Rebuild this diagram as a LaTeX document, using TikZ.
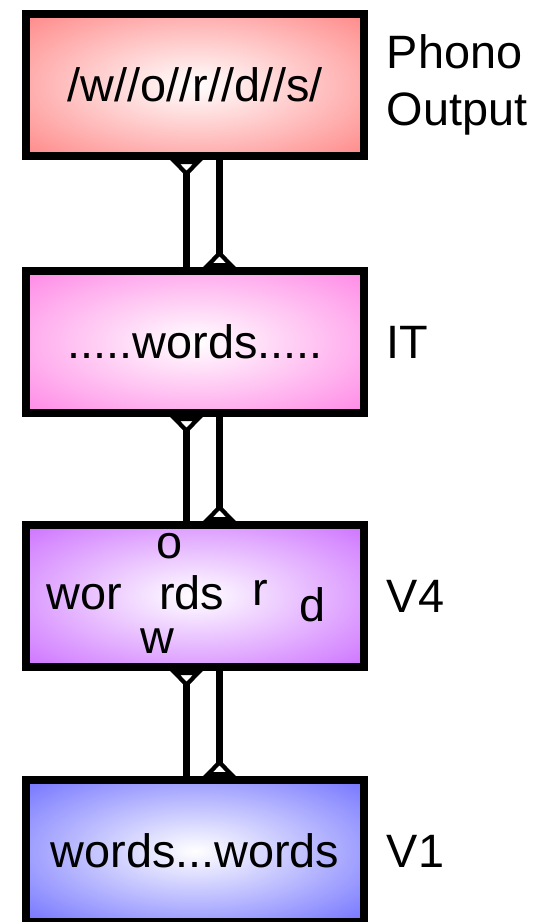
\documentclass[tikz,border=0pt]{standalone}
\usepackage{fontspec}
\setmainfont{Liberation Sans}
\usetikzlibrary{positioning}
\usetikzlibrary{arrows.meta}
\definecolor{phonocol}{RGB}{255,128,128}
\definecolor{itcol}{RGB}{255,128,228}
\definecolor{vfourcol}{RGB}{202,104,255}
\definecolor{vonecol}{RGB}{106,106,255}
\colorlet{glowcol}{phonocol}
\pgfdeclareradialshading[glowcol]{glow}{\pgfpointorigin}{color(0bp)=(white); color(38bp)=(glowcol); color(50bp)=(glowcol)}

\begin{document}
\begin{tikzpicture} [
            x=1bp, y=-1bp,
            every node/.style={font=\fontsize{47}{57}\selectfont, inner sep=0pt},
            area/.style={draw, line width=7.5bp, minimum width=338bp, minimum height=142bp,
                shading=glow, /utils/exec={\colorlet{glowcol}{#1}}},
            link/.style={line width=7bp, -{Triangle[open, reversed, length=17bp, width=32bp, line width=5.5bp]}}
        ]
        \useasboundingbox (0,0) rectangle (555,922);
        \node[area=phonocol] (phono) at (195,85) {/w//o//r//d//s/};
        \node[area=itcol] (it) at (195,342) {.....words.....};
        \node[area=vfourcol] (vfour) at (195,596) {};
        \node[area=vonecol] (vone) at (195,851) {words...words};
        % scrambled letters in V4
        \node[anchor=base west] (wor) at (46,609) {wor};
        \node[anchor=base west] (rds) at (159,609) {rds};
        \node[anchor=base west] (lo) at (156,558) {o};
        \node[anchor=base west] (lr) at (252,605) {r};
        \node[anchor=base west] (ld) at (299,621) {d};
        \node[anchor=base west] (lw) at (140,653) {w};
        % area labels
        \node[right=19bp of phono, align=left] (phonolbl) {Phono\\Output};
        \node[right=19bp of it] (itlbl) {IT};
        \node[right=19bp of vfour] (vfourlbl) {V4};
        \node[right=19bp of vone] (vonelbl) {V1};
        \foreach \up/\down in {phono/it, it/vfour, vfour/vone} {
            \draw[link] ([xshift=-8.5bp]\down.north) -- ([xshift=-8.5bp]\up.south);
            \draw[link] ([xshift=24.5bp]\up.south) -- ([xshift=24.5bp]\down.north);
        }
    \end{tikzpicture}
\end{document}
